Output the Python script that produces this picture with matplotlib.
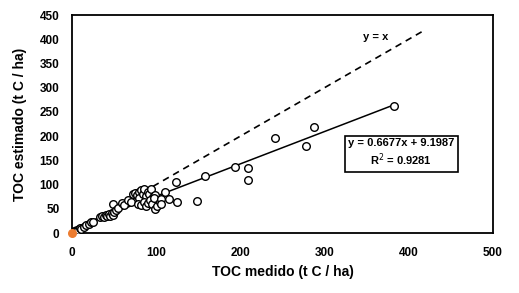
import matplotlib
matplotlib.use("Agg")
import matplotlib.pyplot as plt
import numpy as np

plt.rcParams['font.family'] = ['Liberation Sans Narrow', 'Liberation Sans', 'DejaVu Sans']

measured = [3, 5, 7, 9, 11, 14, 17, 20, 23, 25,
            33, 36, 38, 40, 42, 44, 45, 47, 49, 50, 49, 52, 55, 59, 62, 67, 70,
            73, 75, 77, 79, 80, 82, 84, 86, 88, 90, 92, 94, 96, 98,
            78, 82, 85, 88, 90, 93, 95, 99, 101, 97, 104, 106, 106,
            111, 115, 123, 125, 148, 158, 194, 209, 209, 241, 278, 288, 382]
estimated = [3, 5, 6, 10, 9, 13, 17, 19, 23, 22,
             32, 35, 34, 37, 36, 39, 35, 41, 38, 44, 60, 47, 52, 62, 57, 68, 65,
             80, 82, 78, 84, 73, 88, 80, 90, 77, 85, 81, 90, 75, 78,
             60, 58, 65, 55, 62, 68, 60, 49, 56, 72, 64, 70, 59,
             84, 71, 105, 63, 66, 118, 136, 134, 110, 196, 180, 219, 262]
origin_x = [0]
origin_y = [0]
slope = 0.6677
intercept = 9.1987
r2 = 0.9281
identity_end = 420

fig = plt.figure(figsize=(5.19, 2.93), dpi=100)
ax = fig.add_axes([72/519, 1-233/293, (493-72)/519, (233-15)/293])

ax.plot([0, identity_end], [0, identity_end], ls=(0, (4, 3)), color='black', lw=1.2, zorder=2)
xf = np.array([0, max(measured)])
ax.plot(xf, slope*xf + intercept, color='black', lw=1.1, zorder=2)
ax.scatter(measured, estimated, s=30, facecolors='white', edgecolors='black', linewidths=1.0, zorder=3)
ax.scatter(origin_x, origin_y, s=30, color='#ED7D31', edgecolors='#ED7D31', zorder=4, clip_on=False)

ax.set_xlim(0, 500)
ax.set_ylim(0, 450)
ax.set_xticks(range(0, 501, 100))
ax.set_yticks(range(0, 451, 50))
ax.tick_params(length=0, labelsize=8.5)
ax.tick_params(axis='x', pad=10)
ax.tick_params(axis='y', pad=9)
for lbl in ax.get_xticklabels() + ax.get_yticklabels():
    lbl.set_fontweight('bold')
for s in ax.spines.values():
    s.set_linewidth(1.3)
    s.set_color('black')

ax.set_xlabel('TOC medido (t C / ha)', fontsize=10, fontweight='bold')
ax.set_ylabel('TOC estimado (t C / ha)', fontsize=10, fontweight='bold')
ax.xaxis.set_label_coords(0.5, (233-272)/218, transform=ax.transAxes)
ax.yaxis.set_label_coords((20-72)/421, 0.5, transform=ax.transAxes)
ax.xaxis.label.set_va('center')
ax.yaxis.label.set_va('center')

ax.text(361, 405, 'y = x', fontsize=8, fontweight='bold', ha='center', va='center')
ax.text(391, 165, f'y = {slope}x + {intercept}\nR$^2$ = {r2}', fontsize=8, fontweight='bold',
        ha='center', va='center', multialignment='center', linespacing=1.3,
        bbox=dict(boxstyle='square,pad=0.3', facecolor='white', edgecolor='black', linewidth=1.2))

fig.savefig('out.png', dpi=100)
